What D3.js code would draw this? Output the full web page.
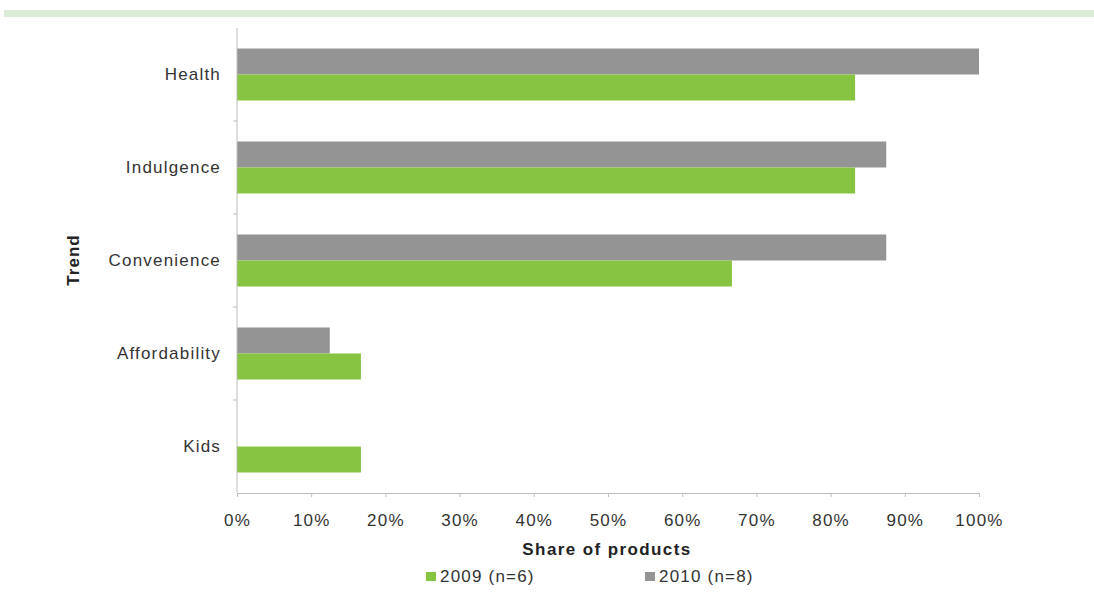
<!DOCTYPE html>
<html><head><meta charset="utf-8">
<script src="https://cdn.jsdelivr.net/npm/d3@7"></script>
<style>body{margin:0;background:#fff;}svg{display:block;font-family:"Liberation Sans",Arial,sans-serif;}</style>
</head><body><svg id="c" width="1094" height="595"></svg>
<script>
const categories = ["Health","Indulgence","Convenience","Affordability","Kids"];
const values2009 = [83.3, 83.3, 66.7, 16.7, 16.7];
const values2010 = [100, 87.5, 87.5, 12.5, 0];
const seriesNames = ["2009 (n=6)","2010 (n=8)"];
const xTicks = [0,10,20,30,40,50,60,70,80,90,100];

(function(){
const svg = d3.select("#c");
svg.append("rect").attr("x",4).attr("y",10).attr("width",1090).attr("height",7).attr("fill","#dcebd6");

const mLeft=237, mRight=979, mTop=28, mBottom=493;
const x = d3.scaleLinear().domain([0,100]).range([mLeft,mRight]);
const y = d3.scaleBand().domain(categories).range([mTop,mBottom]);
const barH = 26;
const cGreen="#87c441", cGray="#949494";
const FS = 17, LS = 1.2;

const g = svg.append("g");
g.selectAll(".b10").data(categories).join("rect").attr("class","b10")
 .attr("x",x(0)).attr("y",d=>y(d)+y.bandwidth()/2-barH)
 .attr("width",(d,i)=>x(values2010[i])-x(0)).attr("height",barH).attr("fill",cGray);
g.selectAll(".b09").data(categories).join("rect").attr("class","b09")
 .attr("x",x(0)).attr("y",d=>y(d)+y.bandwidth()/2)
 .attr("width",(d,i)=>x(values2009[i])-x(0)).attr("height",barH).attr("fill",cGreen);

const xa = svg.append("g").attr("transform",`translate(0,${mBottom})`)
 .call(d3.axisBottom(x).tickValues(xTicks).tickFormat(d=>d+"%").tickSize(4).tickPadding(17));
xa.select(".domain").attr("stroke","#bdbdbd");
xa.selectAll(".tick line").attr("stroke","#bdbdbd");
xa.selectAll("text").attr("font-size",FS).attr("letter-spacing",LS).attr("fill","#333").attr("font-family","Liberation Sans, Arial, sans-serif");

const ya = svg.append("g").attr("transform",`translate(${mLeft},0)`)
 .call(d3.axisLeft(y).tickSize(0).tickPadding(16));
ya.select(".domain").attr("stroke","#bdbdbd").attr("d",`M0,${mTop}V${mBottom}`);
ya.selectAll("text").attr("font-size",FS).attr("letter-spacing",LS).attr("fill","#333").attr("font-family","Liberation Sans, Arial, sans-serif");
ya.selectAll(".bt").data(categories.slice(1)).join("line").attr("class","bt")
 .attr("x1",-4).attr("x2",0).attr("y1",d=>y(d)).attr("y2",d=>y(d)).attr("stroke","#bdbdbd");

svg.append("text").attr("x",607).attr("y",555).attr("text-anchor","middle")
 .attr("font-size",FS).attr("letter-spacing",1.4).attr("font-weight","bold").attr("fill","#222").text("Share of products");
svg.append("text").attr("transform","translate(79,260) rotate(-90)").attr("text-anchor","middle")
 .attr("font-size",FS).attr("letter-spacing",1).attr("font-weight","bold").attr("fill","#222").text("Trend");

const leg = [{n:seriesNames[0],c:cGreen,x:426},{n:seriesNames[1],c:cGray,x:645}];
const lg = svg.selectAll(".lg").data(leg).join("g").attr("class","lg").attr("transform",d=>`translate(${d.x},572)`);
lg.append("rect").attr("width",10).attr("height",9).attr("fill",d=>d.c);
lg.append("text").attr("x",14).attr("y",10).attr("font-size",FS).attr("letter-spacing",LS).attr("fill","#333").text(d=>d.n);
})();
</script></body></html>
